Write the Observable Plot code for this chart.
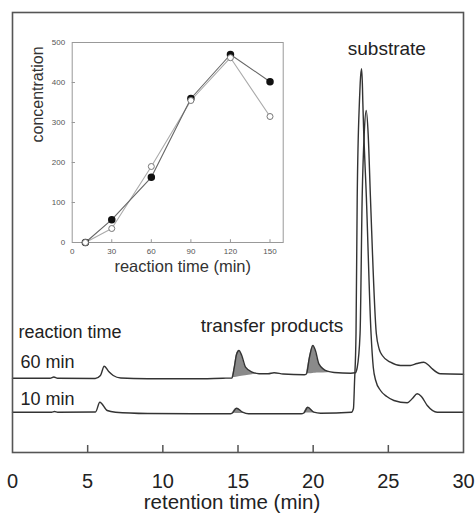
<!DOCTYPE html>
<html>
<head>
<meta charset="utf-8">
<script src="https://cdn.jsdelivr.net/npm/d3@7"></script>
<script src="https://cdn.jsdelivr.net/npm/@observablehq/plot@0.6"></script>
<style>
  html, body { margin: 0; padding: 0; background: white; }
  #wrap { position: relative; width: 476px; height: 518px; }
  #wrap > div { position: absolute; left: 0; top: 0; }
</style>
</head>
<body>
<div id="wrap"><div id="main"></div><div id="inset"></div></div>
<script>
// ---- Main chromatogram (signal in arbitrary units, traces include their vertical offset) ----
const t60 = [0, 2.5, 2.75, 3.0, 5.5, 5.85, 6.1, 6.4, 6.7, 7.2, 9, 12, 14.0, 14.6, 14.75, 14.9, 15.06, 15.25, 15.5, 15.95, 16.4, 17.0, 17.4, 18, 19.4, 19.55, 19.75, 19.98, 20.15, 20.38, 20.94, 21.4, 22.5, 22.8, 22.93, 23.12, 23.26, 23.40, 23.53, 23.66, 23.81, 24.2, 24.4, 24.6, 25.14, 25.81, 26.47, 26.9, 27.36, 27.7, 27.92, 28.47, 30];
const s60 = [74.3, 74.3, 75.5, 74.3, 74.0, 77, 86.3, 81, 77, 74.5, 73.8, 73.7, 74.3, 74.5, 85, 98, 102, 97, 85.3, 80.3, 78.8, 78.7, 79.7, 78.5, 77.7, 78.5, 95, 107, 102, 88.7, 81.3, 80, 79.3, 79.7, 85, 119, 255, 320, 342, 318, 255, 119, 103, 97, 90.3, 87, 87, 89, 90.3, 87, 83.7, 78.7, 78.3];

const t10 = [0, 2.6, 2.8, 3.0, 5.52, 5.81, 6.3, 6.85, 9, 12, 14.5, 14.61, 14.9, 15.3, 15.7, 19.2, 19.38, 19.64, 20.04, 20.5, 22.55, 22.68, 22.75, 22.85, 22.93, 23.08, 23.13, 23.22, 23.28, 23.30, 23.54, 23.85, 24.0, 24.16, 24.48, 24.9, 25.37, 26.26, 26.6, 26.92, 27.2, 27.59, 28.25, 29, 30];
const s10 = [40.3, 40.3, 41, 40.3, 40.5, 50.3, 42, 40.3, 39, 38.7, 38.7, 39.3, 44.3, 40.3, 38.7, 38.7, 39.5, 45.3, 40.3, 39.3, 40.3, 44, 70, 119, 255, 352, 370, 383.7, 365, 352, 255, 119, 85, 72, 62, 56, 52, 49.7, 54, 58.7, 56, 47, 40.3, 40.3, 40.3];

// shaded transfer-product peaks: retention time, peak top, lower edge
const fillT   = [[14.6, 14.75, 14.9, 15.06, 15.25, 15.5, 15.95, 16.4], [19.55, 19.75, 19.98, 20.15, 20.38, 20.94, 21.4],
                 [14.61, 14.9, 15.3, 15.7], [19.38, 19.64, 20.04, 20.5]];
const fillTop = [[74.5, 85, 98, 102, 97, 85.3, 80.3, 78.8], [78.5, 95, 107, 102, 88.7, 81.3, 80],
                 [39.3, 44.3, 40.3, 38.7], [39.5, 45.3, 40.3, 39.3]];
const fillBase = [[74.5, 74.9, 75.3, 75.7, 76.2, 76.8, 77.8, 78.8], [78.5, 78.7, 79.0, 79.2, 79.4, 79.8, 80],
                  [39.3, 39.1, 38.9, 38.7], [39.5, 39.4, 39.4, 39.3]];

const xTickLabels = [0, 5, 10, 15, 20, 25, 30];
const xInnerTicks = [5, 10, 15, 20, 25];

const annoText = ["substrate", "transfer products", "reaction time", "60 min", "10 min"];
const annoX    = [24.9, 17.26, 0.4, 0.53, 0.53];
const annoY    = [404, 127, 120, 90, 53];
const annoAnchor = ["middle", "middle", "start", "start", "start"];
const annoSize = [19, 19, 18, 18, 18];

// ---- Inset: concentration vs reaction time ----
const reactTime = [10, 30, 60, 90, 120, 150];
const concFilled = [0, 57, 163, 360, 470, 402];
const concOpen   = [0, 35, 190, 355, 462, 315];
const insetXTicks = [0, 30, 60, 90, 120, 150];
const insetYTicks = [0, 100, 200, 300, 400, 500];

const font = "'Liberation Sans', Arial, Helvetica, sans-serif";

const tr60 = t60.map((t, i) => ({t, s: s60[i]}));
const tr10 = t10.map((t, i) => ({t, s: s10[i]}));
const fills = fillT.flatMap((arr, k) => arr.map((t, i) => ({k, t, top: fillTop[k][i], base: fillBase[k][i]})));
const annos = annoText.map((text, i) => ({text, x: annoX[i], y: annoY[i], a: annoAnchor[i], fs: annoSize[i]}));

const main = Plot.plot({
  width: 476, height: 518,
  marginLeft: 12, marginRight: 13, marginTop: 12, marginBottom: 66,
  style: {fontFamily: font, background: "white", color: "#222"},
  x: {domain: [0, 30]},
  y: {domain: [0, 440], axis: null},
  marks: [
    Plot.areaY(fills, {x: "t", y1: "base", y2: "top", z: "k", fill: "#8a8a8a", curve: "monotone-x"}),
    Plot.lineY(tr60, {x: "t", y: "s", stroke: "#333", strokeWidth: 1.4, curve: "monotone-x"}),
    Plot.lineY(tr10, {x: "t", y: "s", stroke: "#333", strokeWidth: 1.4, curve: "monotone-x"}),
    Plot.ruleX(xInnerTicks, {y1: 0, y2: 7, stroke: "#555", strokeWidth: 1.5}),
    Plot.frame({stroke: "#555", strokeWidth: 1.6}),
    Plot.axisX(xTickLabels, {tickSize: 0, tickPadding: 21, fontSize: 20, fill: "#222", label: null}),
    Plot.text(["retention time (min)"], {frameAnchor: "bottom", dx: -6, dy: 56, fontSize: 20.5, fill: "#222"}),
    ...annos.map(d => Plot.text([d], {x: "x", y: "y", text: "text", fontSize: d.fs, fill: "#222", textAnchor: d.a}))
  ]
});
document.getElementById("main").append(main);

const inset = Plot.plot({
  width: 300, height: 290,
  marginLeft: 71.7, marginRight: 17.3, marginTop: 42, marginBottom: 48,
  style: {fontFamily: font, background: "transparent", color: "#555"},
  x: {domain: [0, 160]},
  y: {domain: [0, 500]},
  marks: [
    Plot.frame({stroke: "#999", strokeWidth: 1}),
    Plot.ruleX(insetXTicks.slice(1), {y1: 0, y2: 7, stroke: "#999"}),
    Plot.ruleY(insetYTicks.slice(1, -1), {x1: 0, x2: 2.5, stroke: "#999"}),
    Plot.axisX(insetXTicks, {tickSize: 0, tickPadding: 6, fontSize: 8, fill: "#555", label: null}),
    Plot.axisY(insetYTicks, {tickSize: 0, tickPadding: 7, fontSize: 8, fill: "#555", label: null}),
    Plot.line(reactTime, {x: d => d, y: (d, i) => concOpen[i], stroke: "#aaa", strokeWidth: 1.1}),
    Plot.line(reactTime, {x: d => d, y: (d, i) => concFilled[i], stroke: "#666", strokeWidth: 1.1}),
    Plot.dot(reactTime, {x: d => d, y: (d, i) => concFilled[i], r: 3, fill: "#111", stroke: "#111"}),
    Plot.dot(reactTime, {x: d => d, y: (d, i) => concOpen[i], r: 3, fill: "white", stroke: "#777", strokeWidth: 1}),
    Plot.text(["concentration"], {frameAnchor: "left", dx: -34, rotate: -90, fontSize: 16, fill: "#333"}),
    Plot.text(["reaction time (min)"], {frameAnchor: "bottom", dx: 5, dy: 29, fontSize: 16.5, fill: "#333"})
  ]
});
document.getElementById("inset").append(inset);
</script>
</body>
</html>
